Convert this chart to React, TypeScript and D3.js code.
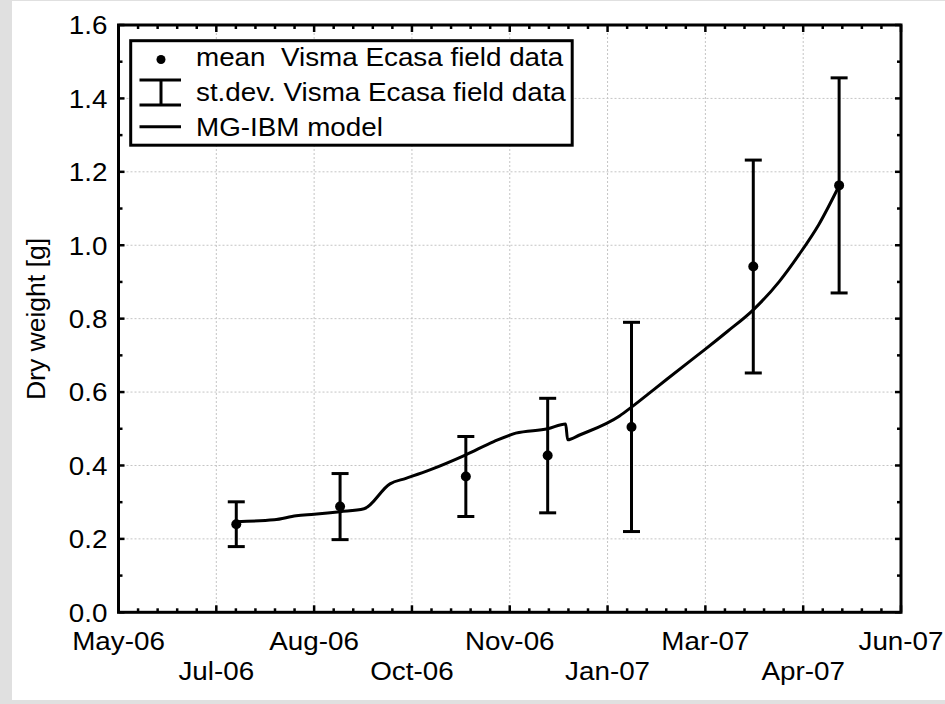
import React, { useEffect } from "react";
import * as d3 from "d3";

// ---- data ----
const obsDates = ["2006-07-13", "2006-09-03", "2006-11-05", "2006-12-16", "2007-01-27", "2007-03-29", "2007-05-11"];
const obsMean = [0.240, 0.288, 0.370, 0.427, 0.505, 0.942, 1.163];
const obsSd = [0.061, 0.090, 0.109, 0.156, 0.285, 0.290, 0.293];

const modelDates = [
  "2006-07-13", "2006-08-01", "2006-08-12", "2006-08-21", "2006-09-03", "2006-09-15",
  "2006-09-28", "2006-10-06", "2006-10-18", "2006-11-05", "2006-11-19", "2006-11-30",
  "2006-12-16", "2006-12-25", "2006-12-26", "2007-01-01", "2007-01-21", "2007-01-27",
  "2007-02-07", "2007-02-24", "2007-03-05", "2007-03-16", "2007-03-29", "2007-04-11",
  "2007-04-21", "2007-05-01", "2007-05-11",
];
const modelValues = [
  0.247, 0.252, 0.263, 0.267, 0.274, 0.282,
  0.350, 0.365, 0.388, 0.429, 0.465, 0.488,
  0.500, 0.513, 0.470, 0.483, 0.535, 0.559,
  0.606, 0.679, 0.717, 0.765, 0.824, 0.901,
  0.975, 1.058, 1.162,
];

const xStart = "2006-05-15";
const xStepDays = 49;
const xSteps = 8;
const yTicks = [0, 0.2, 0.4, 0.6, 0.8, 1.0, 1.2, 1.4, 1.6];
const yMinorTicks = [0.1, 0.3, 0.5, 0.7, 0.9, 1.1, 1.3, 1.5];

const legendLabels = ["mean  Visma Ecasa field data", "st.dev. Visma Ecasa field data", "MG-IBM model"];
const yLabel = "Dry weight [g]";

// ---- layout ----
const W = 945, H = 704;
const L = 118.5, R = 901, T = 25, B = 612.3;
const FONT = "'Liberation Sans', Arial, sans-serif";
const FS = 26;
const SX = 1.07;
const DAY = 86400000;

const parse = (s: string) => {
  const [y, m, d] = s.split("-").map(Number);
  return new Date(Date.UTC(y, m - 1, d));
};

function T2({ x, y, anchor = "start", dy, rotate = 0, sx = SX, children }: any) {
  return (
    <g transform={`translate(${x},${y}) rotate(${rotate}) scale(${sx},1)`}>
      <text
        x={0}
        y={0}
        dy={dy}
        textAnchor={anchor}
        style={{ fontFamily: FONT, fontSize: FS, fill: "#000", whiteSpace: "pre" }}
      >
        {children}
      </text>
    </g>
  );
}

export default function App() {
  useEffect(() => {
    document.body.style.margin = "0";
  }, []);

  const start = parse(xStart);
  const end = new Date(start.getTime() + xSteps * xStepDays * DAY);
  const x = d3.scaleUtc().domain([start, end]).range([L, R]);
  const y = d3.scaleLinear().domain([0, 1.6]).range([B, T]);

  const majors = d3.range(xSteps + 1).map((k) => new Date(start.getTime() + k * xStepDays * DAY));
  const minors: Date[] = [];
  for (let k = 0; k < xSteps; k++) {
    for (let j = 1; j < 5; j++) {
      minors.push(new Date(start.getTime() + (k + j / 5) * xStepDays * DAY));
    }
  }
  const fmt = d3.utcFormat("%b-%y");

  const line = d3
    .line<number>()
    .x((_, i) => x(parse(modelDates[i])))
    .y((v) => y(v))
    .curve(d3.curveMonotoneX);

  const grid = "#c4c4c4";

  return (
    <svg width={W} height={H} style={{ position: "absolute", left: 0, top: 0, display: "block" }}>
      <rect x={0} y={0} width={W} height={H} fill="#e0e0e0" />
      <rect x={12} y={1} width={W - 12} height={699} fill="#fff" />

      {/* grid */}
      {majors.slice(1, -1).map((d, i) => (
        <line key={"gx" + i} x1={x(d)} x2={x(d)} y1={T} y2={B} stroke={grid} strokeWidth={1} strokeDasharray="2,2" />
      ))}
      {yTicks.slice(1, -1).map((v, i) => (
        <line key={"gy" + i} x1={L} x2={R} y1={y(v)} y2={y(v)} stroke={grid} strokeWidth={1} strokeDasharray="2,2" />
      ))}

      {/* ticks (inward, all four sides) */}
      {majors.map((d, i) => (
        <g key={"mx" + i}>
          <line x1={x(d)} x2={x(d)} y1={B} y2={B - 7} stroke="#000" strokeWidth={2.5} />
          <line x1={x(d)} x2={x(d)} y1={T} y2={T + 7} stroke="#000" strokeWidth={2.5} />
        </g>
      ))}
      {minors.map((d, i) => (
        <g key={"nx" + i}>
          <line x1={x(d)} x2={x(d)} y1={B} y2={B - 4} stroke="#000" strokeWidth={2.5} />
          <line x1={x(d)} x2={x(d)} y1={T} y2={T + 4} stroke="#000" strokeWidth={2.5} />
        </g>
      ))}
      {yTicks.map((v, i) => (
        <g key={"my" + i}>
          <line x1={L} x2={L + 6} y1={y(v)} y2={y(v)} stroke="#000" strokeWidth={2.5} />
          <line x1={R} x2={R - 6} y1={y(v)} y2={y(v)} stroke="#000" strokeWidth={2.5} />
        </g>
      ))}
      {yMinorTicks.map((v, i) => (
        <g key={"ny" + i}>
          <line x1={L} x2={L + 4} y1={y(v)} y2={y(v)} stroke="#000" strokeWidth={2.5} />
          <line x1={R} x2={R - 4} y1={y(v)} y2={y(v)} stroke="#000" strokeWidth={2.5} />
        </g>
      ))}

      {/* frame */}
      <rect x={L} y={T} width={R - L} height={B - T} fill="none" stroke="#000" strokeWidth={3} />

      {/* y tick labels */}
      {yTicks.map((v, i) => (
        <T2 key={"ly" + i} x={L - 11} y={y(v)} dy="0.36em" anchor="end">
          {d3.format(".1f")(v)}
        </T2>
      ))}

      {/* x tick labels, alternating rows */}
      {majors.map((d, i) => (
        <T2 key={"lx" + i} x={x(d)} y={i % 2 === 0 ? 650 : 680} anchor="middle">
          {fmt(d)}
        </T2>
      ))}

      {/* y axis label */}
      <T2 x={45} y={319} rotate={-90} sx={1.02} anchor="middle">
        {yLabel}
      </T2>

      {/* model line */}
      <path d={line(modelValues) || ""} fill="none" stroke="#000" strokeWidth={3} strokeLinejoin="round" />

      {/* error bars & means */}
      {obsDates.map((ds, i) => {
        const cx = x(parse(ds));
        const y1 = y(obsMean[i] + obsSd[i]);
        const y0 = y(obsMean[i] - obsSd[i]);
        return (
          <g key={"e" + i}>
            <line x1={cx} x2={cx} y1={y1} y2={y0} stroke="#000" strokeWidth={3} />
            <line x1={cx - 8.5} x2={cx + 8.5} y1={y1} y2={y1} stroke="#000" strokeWidth={3} />
            <line x1={cx - 8.5} x2={cx + 8.5} y1={y0} y2={y0} stroke="#000" strokeWidth={3} />
            <circle cx={cx} cy={y(obsMean[i])} r={5} fill="#000" />
          </g>
        );
      })}

      {/* legend */}
      <rect x={130.7} y={40.7} width={441.5} height={104.5} fill="#fff" stroke="#000" strokeWidth={3} />
      <circle cx={161} cy={59.5} r={4.5} fill="#000" />
      <line x1={139.5} x2={181} y1={80} y2={80} stroke="#000" strokeWidth={3} />
      <line x1={139.5} x2={181} y1={105} y2={105} stroke="#000" strokeWidth={3} />
      <line x1={161} x2={161} y1={80} y2={105} stroke="#000" strokeWidth={3} />
      <line x1={139.5} x2={181} y1={126.7} y2={126.7} stroke="#000" strokeWidth={3} />
      {legendLabels.map((t, i) => (
        <T2 key={"lg" + i} x={196} y={65.5 + i * 35}>
          {t}
        </T2>
      ))}
    </svg>
  );
}
